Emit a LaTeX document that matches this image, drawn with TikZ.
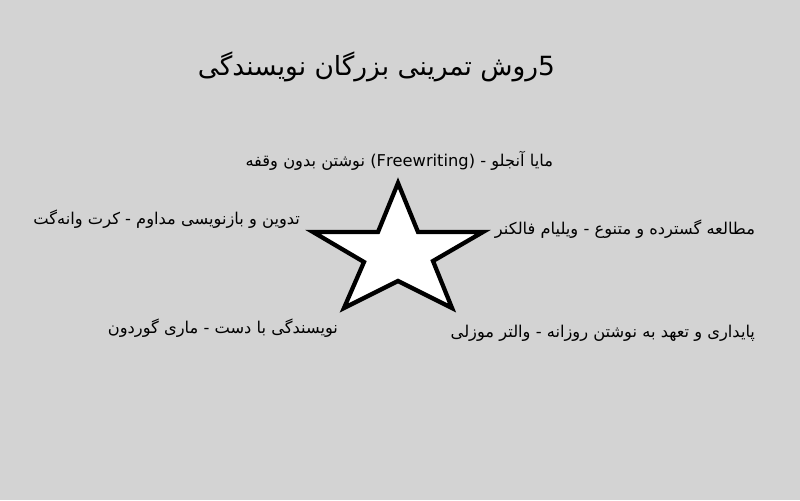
\documentclass[tikz,border=0pt]{standalone}
\usepackage{fontspec}
\newfontfamily\arabicfont[Script=Arabic]{DejaVu Sans}
\TeXXeTstate=1
\definecolor{bgcol}{RGB}{211,211,211}
\tikzset{
  lbl/.style={inner sep=0pt, outer sep=0pt, font=\arabicfont\fontsize{12.2}{15}\selectfont, text=black},
  ttl/.style={inner sep=0pt, outer sep=0pt, font=\arabicfont\fontsize{19.8}{24}\selectfont, text=black},
  starshape/.style={draw=black, fill=white, line width=3.2pt, line join=miter}
}
\begin{document}
\begin{tikzpicture}[x=0.75pt,y=-0.75pt]
\fill[bgcol] (0,0) rectangle (800,500);
\useasboundingbox (0,0) rectangle (800,500);
\node[ttl, anchor=east] (title) at (555,67) {\beginR 5\kern0pt روش تمرینی بزرگان نویسندگی\endR};
\node[lbl, anchor=east] (t1) at (553,161) {\beginR مایا آنجلو - \beginL(Freewriting)\endL{} نوشتن بدون وقفه\endR};
\node[lbl, anchor=east] (t2) at (300,219) {\beginR تدوین و بازنویسی مداوم - کرت وانه‌گت\endR};
\node[lbl, anchor=east] (t3) at (755,229) {\beginR مطالعه گسترده و متنوع - ویلیام فالکنر\endR};
\node[lbl, anchor=east] (t4) at (338,328) {\beginR نویسندگی با دست - ماری گوردون\endR};
\node[lbl, anchor=east] (t5) at (755,333) {\beginR پایداری و تعهد به نوشتن روزانه - والتر موزلی\endR};
\coordinate (p1) at (398,183);
\coordinate (i1) at (418,232);
\coordinate (p2) at (483,232);
\coordinate (i2) at (433,261);
\coordinate (p3) at (452,308);
\coordinate (i3) at (398,281);
\coordinate (p4) at (344,308);
\coordinate (i4) at (364,262);
\coordinate (p5) at (313,232);
\coordinate (i5) at (378,232);
\draw[starshape] (p1) -- (i1) -- (p2) -- (i2) -- (p3) -- (i3) -- (p4) -- (i4) -- (p5) -- (i5) -- cycle;
\end{tikzpicture}
\end{document}
